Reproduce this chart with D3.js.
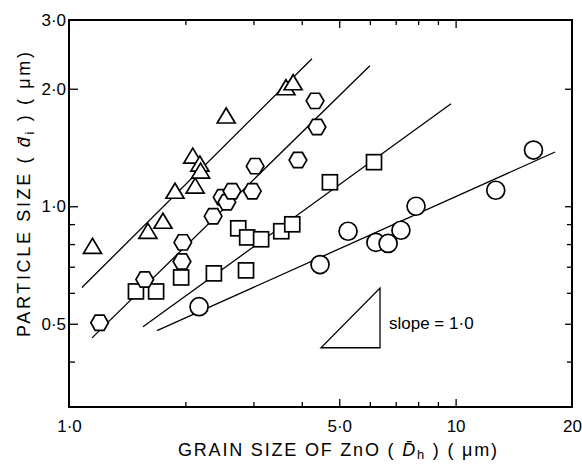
<!DOCTYPE html>
<html>
<head>
<meta charset="utf-8">
<script src="https://cdnjs.cloudflare.com/ajax/libs/d3/7.8.5/d3.min.js"></script>
<style>
  body { margin: 0; background: #fff; }
  svg { display: block; font-family: "Liberation Sans", Arial, sans-serif; }
  .tick text { font-size: 17px; fill: #000; }
  .tick line { stroke: #000; stroke-width: 1.3; }
</style>
</head>
<body>
<svg width="582" height="464"></svg>
<script>
// grain size of ZnO (um) vs particle size (um)
const triX = [1.15, 1.60, 1.75, 1.88, 2.12, 2.09, 2.18, 2.19, 2.55, 3.64, 3.80];
const triY = [0.785, 0.857, 0.91, 1.086, 1.119, 1.336, 1.275, 1.223, 1.693, 2.0, 2.06];

const hexX = [1.20, 1.57, 1.96, 1.97, 2.36, 2.49, 2.56, 2.64, 2.98, 3.03, 3.91, 4.38, 4.33];
const hexY = [0.503, 0.649, 0.722, 0.808, 0.943, 1.055, 1.024, 1.093, 1.093, 1.267, 1.313, 1.596, 1.862];

const sqX = [1.49, 1.68, 1.95, 2.37, 2.87, 2.74, 2.89, 3.14, 3.54, 3.78, 4.73, 6.15];
const sqY = [0.605, 0.605, 0.657, 0.673, 0.685, 0.878, 0.832, 0.823, 0.863, 0.899, 1.152, 1.297];

const cirX = [2.17, 4.46, 5.27, 6.22, 6.69, 7.22, 7.90, 12.7, 15.9];
const cirY = [0.553, 0.709, 0.863, 0.808, 0.803, 0.868, 1.0, 1.099, 1.393];

// fitted lines, [x, y] end points
const triFit = [[1.08, 0.619], [4.25, 2.387]];
const hexFit = [[1.147, 0.46], [6.0, 2.29]];
const sqFit = [[1.554, 0.491], [9.73, 1.83]];
const cirFit = [[1.689, 0.48], [18.08, 1.377]];

// slope = 1.0 guide triangle
const slopeTri = [[4.485, 0.434], [6.375, 0.434], [6.375, 0.617]];

const xMajor = [1, 5, 10, 20];
const xMajorLabels = ["1·0", "5·0", "10", "20"];
const xMinor = [2, 3, 4, 6, 7, 8, 9];
const yMajor = [0.5, 1, 2, 3];
const yMajorLabels = ["0·5", "1·0", "2·0", "3·0"];
const yMinor = [0.4, 0.6, 0.7, 0.8, 0.9];

const L = 69, R = 572, T = 20, B = 407;
const svg = d3.select("svg");

const x = d3.scaleLog().domain([1, 20]).range([L, R]);
const y = d3.scaleLog().domain([0.306, 3]).range([B, T]);

// axes, ticks pointing inward
function lab(vals, labels) {
    return v => labels[vals.indexOf(v)];
}
svg.append("g").attr("transform", `translate(0,${B})`)
    .call(d3.axisBottom(x).tickValues(xMajor.slice(1, 3)).tickSize(-8).tickFormat(""));
svg.append("g").attr("transform", `translate(0,${B})`)
    .call(d3.axisBottom(x).tickValues(xMinor).tickSize(-5).tickFormat(""));
svg.append("g").attr("transform", `translate(0,${B})`)
    .call(d3.axisBottom(x).tickValues(xMajor).tickSize(0).tickPadding(13).tickFormat(lab(xMajor, xMajorLabels)));
svg.append("g").attr("transform", `translate(0,${T})`)
    .call(d3.axisTop(x).tickValues(xMajor.slice(1, 3)).tickSize(-8).tickFormat(""));
svg.append("g").attr("transform", `translate(0,${T})`)
    .call(d3.axisTop(x).tickValues(xMinor).tickSize(-5).tickFormat(""));

svg.append("g").attr("transform", `translate(${L},0)`)
    .call(d3.axisLeft(y).tickValues(yMajor.slice(0, 3)).tickSize(-9).tickFormat(""));
svg.append("g").attr("transform", `translate(${L},0)`)
    .call(d3.axisLeft(y).tickValues(yMinor).tickSize(-6).tickFormat(""));
svg.append("g").attr("transform", `translate(${L},0)`)
    .call(d3.axisLeft(y).tickValues(yMajor).tickSize(0).tickPadding(3).tickFormat(lab(yMajor, yMajorLabels)));
svg.append("g").attr("transform", `translate(${R},0)`)
    .call(d3.axisRight(y).tickValues(yMajor.slice(0, 3)).tickSize(-7).tickFormat(""));
svg.append("g").attr("transform", `translate(${R},0)`)
    .call(d3.axisRight(y).tickValues(yMinor).tickSize(-5).tickFormat(""));

svg.selectAll(".domain").remove();

svg.append("rect")
    .attr("x", L).attr("y", T)
    .attr("width", R - L).attr("height", B - T)
    .attr("fill", "none").attr("stroke", "#000").attr("stroke-width", 2);

// fit lines
const fits = [triFit, hexFit, sqFit, cirFit];
svg.append("g").selectAll("line")
    .data(fits)
    .enter().append("line")
    .attr("x1", d => x(d[0][0])).attr("y1", d => y(d[0][1]))
    .attr("x2", d => x(d[1][0])).attr("y2", d => y(d[1][1]))
    .attr("stroke", "#000").attr("stroke-width", 1.3);

// markers
const zip = (a, b) => a.map((v, i) => [v, b[i]]);
const mark = svg.append("g").attr("fill", "#fff").attr("stroke", "#000").attr("stroke-width", 1.7);

const triShape = "M0,-9L9,6L-9,6Z";
const hexShape = d3.range(6).map(i => {
    const a = Math.PI / 3 * i;
    return [8.8 * Math.cos(a), 8.8 * Math.sin(a)];
});
const hexPath = "M" + hexShape.join("L") + "Z";

mark.selectAll(".cir").data(zip(cirX, cirY)).enter().append("circle")
    .attr("cx", d => x(d[0])).attr("cy", d => y(d[1])).attr("r", 9);
mark.selectAll(".sq").data(zip(sqX, sqY)).enter().append("rect")
    .attr("x", d => x(d[0]) - 7.5).attr("y", d => y(d[1]) - 7.5)
    .attr("width", 15).attr("height", 15);
mark.selectAll(".hex").data(zip(hexX, hexY)).enter().append("path")
    .attr("d", hexPath)
    .attr("transform", d => `translate(${x(d[0])},${y(d[1])})`);
mark.selectAll(".tri").data(zip(triX, triY)).enter().append("path")
    .attr("d", triShape)
    .attr("transform", d => `translate(${x(d[0])},${y(d[1])})`);

// slope guide
svg.append("path")
    .attr("d", d3.line().x(d => x(d[0])).y(d => y(d[1]))(slopeTri) + "Z")
    .attr("fill", "none").attr("stroke", "#000").attr("stroke-width", 1.3);
svg.append("text")
    .attr("x", 389).attr("y", 329)
    .style("font-size", "17px")
    .text("slope = 1·0");

// axis titles
const xt = svg.append("text")
    .attr("x", 178).attr("y", 456)
    .attr("textLength", 319).attr("lengthAdjust", "spacing")
    .style("font-size", "18px");
xt.append("tspan").text("GRAIN SIZE OF ZnO ( ");
xt.append("tspan").style("font-style", "italic").text("D\u0304");
xt.append("tspan").attr("dy", 3).style("font-size", "13px").text("h");
xt.append("tspan").attr("dy", -3).text(" ) ( μm)");

const yt = svg.append("text")
    .attr("transform", "translate(30,337) rotate(-90)")
    .attr("textLength", 285).attr("lengthAdjust", "spacing")
    .style("font-size", "18px");
yt.append("tspan").text("PARTICLE SIZE ( ");
yt.append("tspan").style("font-style", "italic").text("d\u0304");
yt.append("tspan").attr("dy", 4).style("font-size", "13px").text("i");
yt.append("tspan").attr("dy", -4).text(" ) ( μm)");
</script>
</body>
</html>
